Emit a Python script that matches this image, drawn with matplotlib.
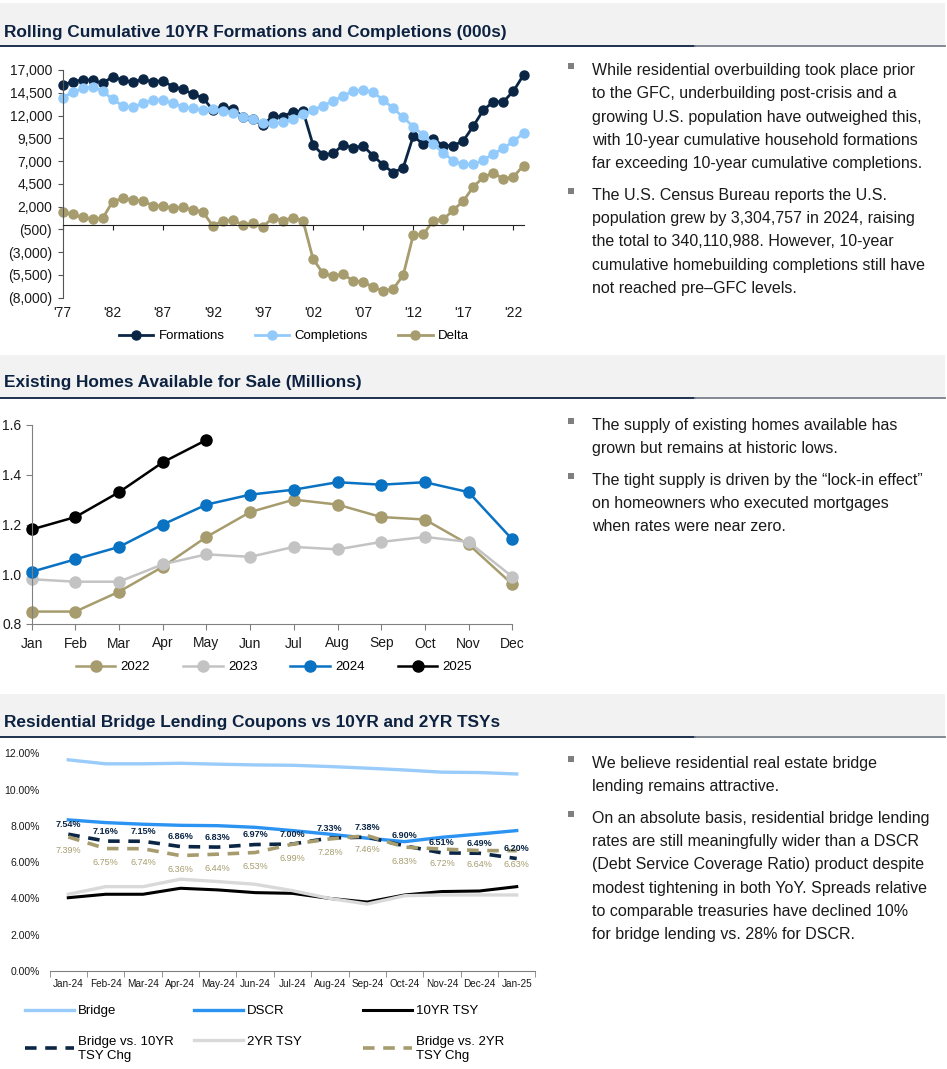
import numpy as np
import matplotlib
matplotlib.use("Agg")
import matplotlib.pyplot as plt
from matplotlib.patches import Rectangle
from matplotlib.lines import Line2D
from matplotlib.ticker import FuncFormatter

plt.rcParams['font.family'] = ['Liberation Sans', 'DejaVu Sans']

# ---- data: rolling 10yr formations / completions (000s)
years = list(range(1977, 2024))
formations = [15350, 15720, 15900, 15900, 15540, 16270, 15900, 15650, 15980, 15720,
              15830, 15170, 14880, 14370, 13960, 12610, 12970, 12720, 11880, 11580,
              10960, 11950, 11880, 12430, 12500, 8770, 7670, 7850, 8770, 8470,
              8660, 7590, 6570, 5730, 6280, 9750, 8840, 9420, 8690, 8690,
              9240, 10850, 12610, 13520, 13520, 14690, 16450]
completions = [13960, 14550, 14990, 15170, 14690, 13780, 13080, 12900, 13340, 13710,
               13710, 13340, 12970, 12790, 12610, 12680, 12540, 12320, 11880, 11580,
               11140, 11140, 11250, 11620, 12130, 12610, 13080, 13600, 14150, 14690,
               14800, 14550, 13710, 12790, 11800, 10780, 9860, 8840, 7920, 7010,
               6640, 6640, 7120, 7780, 8400, 9200, 10050]
delta = [1370, 1150, 820, 640, 710, 2540, 2910, 2730, 2650, 2100,
         2100, 1810, 1920, 1630, 1450, -130, 460, 530, -20, 160,
         -200, 790, 460, 790, 460, -3750, -5330, -5620, -5400, -6170,
         -6240, -6860, -7230, -7050, -5510, -1120, -1040, 460, 600, 1630,
         2620, 4190, 5220, 5730, 5000, 5290, 6500]

# ---- data: existing homes for sale (millions)
months = ['Jan', 'Feb', 'Mar', 'Apr', 'May', 'Jun', 'Jul', 'Aug', 'Sep', 'Oct', 'Nov', 'Dec']
homes_2022 = [0.85, 0.85, 0.93, 1.03, 1.15, 1.25, 1.30, 1.28, 1.23, 1.22, 1.12, 0.96]
homes_2023 = [0.98, 0.97, 0.97, 1.04, 1.08, 1.07, 1.11, 1.10, 1.13, 1.15, 1.13, 0.99]
homes_2024 = [1.01, 1.06, 1.11, 1.20, 1.28, 1.32, 1.34, 1.37, 1.36, 1.37, 1.33, 1.14]
homes_2025 = [1.18, 1.23, 1.33, 1.45, 1.54]

# ---- data: bridge lending coupons vs treasuries (%)
periods = ['Jan-24', 'Feb-24', 'Mar-24', 'Apr-24', 'May-24', 'Jun-24', 'Jul-24',
           'Aug-24', 'Sep-24', 'Oct-24', 'Nov-24', 'Dec-24', 'Jan-25']
bridge = [11.64, 11.42, 11.42, 11.45, 11.40, 11.36, 11.34, 11.27, 11.18, 11.08, 10.96, 10.94, 10.86]
dscr = [8.33, 8.18, 8.09, 8.03, 8.01, 7.92, 7.74, 7.54, 7.32, 7.13, 7.37, 7.55, 7.74]
tsy10 = [4.04, 4.23, 4.23, 4.56, 4.47, 4.32, 4.28, 4.00, 3.80, 4.19, 4.38, 4.41, 4.65]
tsy2 = [4.23, 4.65, 4.65, 5.06, 4.93, 4.78, 4.43, 4.00, 3.69, 4.15, 4.19, 4.19, 4.19]
vs10 = [7.54, 7.16, 7.15, 6.86, 6.83, 6.97, 7.00, 7.33, 7.38, 6.90, 6.51, 6.49, 6.20]
vs2 = [7.39, 6.75, 6.74, 6.36, 6.44, 6.53, 6.99, 7.28, 7.46, 6.83, 6.72, 6.64, 6.63]

top_text = [
    ["While residential overbuilding took place prior",
     "to the GFC, underbuilding post-crisis and a",
     "growing U.S. population have outweighed this,",
     "with 10-year cumulative household formations",
     "far exceeding 10-year cumulative completions."],
    ["The U.S. Census Bureau reports the U.S.",
     "population grew by 3,304,757 in 2024, raising",
     "the total to 340,110,988. However, 10-year",
     "cumulative homebuilding completions still have",
     "not reached pre\u2013GFC levels."]]
mid_text = [
    ["The supply of existing homes available has",
     "grown but remains at historic lows."],
    ["The tight supply is driven by the \u201clock-in effect\u201d",
     "on homeowners who executed mortgages",
     "when rates were near zero."]]
bot_text = [
    ["We believe residential real estate bridge",
     "lending remains attractive."],
    ["On an absolute basis, residential bridge lending",
     "rates are still meaningfully wider than a DSCR",
     "(Debt Service Coverage Ratio) product despite",
     "modest tightening in both YoY. Spreads relative",
     "to comparable treasuries have declined 10%",
     "for bridge lending vs. 28% for DSCR."]]

NAVY = '#0b2645'
LBLUE = '#92cbfb'
TAN = '#a69c6e'
TXT = '#1a1a1a'

W, H = 947, 1069
fig = plt.figure(figsize=(W / 100, H / 100), dpi=100)


def box(x0, y0, x1, y1):
    return [x0 / W, 1 - y1 / H, (x1 - x0) / W, (y1 - y0) / H]


def fy(y):
    return 1 - y / H


def header(y0, y1, ytxt, title):
    fig.add_artist(Rectangle((0, fy(y1)), 945 / W, (y1 - y0) / H, transform=fig.transFigure,
                             facecolor='#f2f2f2', edgecolor='none'))
    fig.add_artist(Line2D([0, 695 / W], [fy(y1)] * 2, color='#0d2240', lw=1.3))
    fig.add_artist(Line2D([695 / W, 945 / W], [fy(y1)] * 2, color='#7a808c', lw=1.3))
    fig.text(4 / W, fy(ytxt), title, fontsize=12.4, fontweight='bold', color='#0d2240',
             va='center', ha='left')


def bullets(groups, ystart, step=23.3, gap=31.5):
    y = ystart
    for g in groups:
        fig.add_artist(Rectangle((568 / W, fy(y - 1)), 6 / W, 6 / H, transform=fig.transFigure,
                                 facecolor='#7f7f7f', edgecolor='none'))
        for k, line in enumerate(g):
            fig.text(592 / W, fy(y + 5), line, fontsize=11.5, color=TXT, va='baseline', ha='left')
            if k < len(g) - 1:
                y += step
        y += gap


# ================= chart 1
header(3, 46, 32, "Rolling Cumulative 10YR Formations and Completions (000s)")
ax1 = fig.add_axes(box(62.5, 70, 523.5, 297.7))
ax1.plot(years, formations, color=NAVY, lw=2, marker='o', ms=6.5, label='Formations', clip_on=False)
ax1.plot(years, completions, color=LBLUE, lw=2, marker='o', ms=6.5, label='Completions', clip_on=False)
ax1.plot(years, delta, color=TAN, lw=2, marker='o', ms=6.5, label='Delta', clip_on=False)
ax1.set_xlim(1977, 2023)
ax1.set_ylim(-8000, 17000)
ax1.set_yticks(np.arange(-8000, 17001, 2500))
ax1.yaxis.set_major_formatter(FuncFormatter(
    lambda v, p: f"{v:,.0f}" if v >= 0 else f"({-v:,.0f})"))
for s in ['top', 'right']:
    ax1.spines[s].set_visible(False)
ax1.spines['bottom'].set_position(('data', 0))
ax1.spines['bottom'].set_color('#222222')
ax1.spines['left'].set_color('#555555')
ax1.set_xticks(range(1977, 2024, 5))
ax1.set_xticklabels([])
ax1.tick_params(axis='x', direction='out', length=3.5, color='#222222')
ax1.tick_params(axis='y', direction='out', length=3.5, color='#555555', labelsize=10,
                labelcolor=TXT, pad=4)
for yr in range(1977, 2024, 5):
    ax1.text(yr, -0.066, "'" + str(yr)[2:], transform=ax1.get_xaxis_transform(),
             ha='center', va='center', fontsize=10, color=TXT)
fig.legend(handles=ax1.get_lines(), loc='center', bbox_to_anchor=(294 / W, fy(336)),
           ncol=3, frameon=False, fontsize=9.5, handlelength=2.6, handletextpad=0.4,
           columnspacing=2.3)
bullets(top_text, 70)

# ================= chart 2
header(355, 398, 383, "Existing Homes Available for Sale (Millions)")
ax2 = fig.add_axes(box(31.7, 425, 512.3, 624))
x = np.arange(len(months))
ax2.plot(x, homes_2022, color=TAN, lw=1.8, marker='o', ms=8, label='2022', clip_on=False)
ax2.plot(x, homes_2023, color='#c3c3c3', lw=1.8, marker='o', ms=8, label='2023', clip_on=False)
ax2.plot(x, homes_2024, color='#0a72c2', lw=1.8, marker='o', ms=8, label='2024', clip_on=False)
ax2.plot(x[:len(homes_2025)], homes_2025, color='black', lw=1.8, marker='o', ms=8, label='2025',
         clip_on=False)
ax2.set_xlim(0, 11)
ax2.set_ylim(0.8, 1.6)
ax2.set_yticks(np.arange(0.8, 1.61, 0.2))
ax2.yaxis.set_major_formatter(FuncFormatter(lambda v, p: f"{v:.1f}"))
ax2.set_xticks(x)
ax2.set_xticklabels(months)
for s in ['top', 'right']:
    ax2.spines[s].set_visible(False)
for s in ['left', 'bottom']:
    ax2.spines[s].set_color('#808080')
ax2.tick_params(direction='out', length=4, color='#808080', labelsize=10, labelcolor=TXT)
ax2.tick_params(axis='x', pad=5)
fig.legend(handles=ax2.get_lines(), loc='center', bbox_to_anchor=(274 / W, fy(667)),
           ncol=4, frameon=False, fontsize=9.5, handlelength=3.0, handletextpad=0.4,
           columnspacing=2.5)
bullets(mid_text, 425)

# ================= chart 3
header(694, 737, 723, "Residential Bridge Lending Coupons vs 10YR and 2YR TSYs")
ax3 = fig.add_axes(box(49.6, 753.3, 535.4, 971))
p = np.arange(len(periods))
l1, = ax3.plot(p, bridge, color='#99ccfa', lw=2.4, label='Bridge')
l2, = ax3.plot(p, dscr, color='#2b93f2', lw=2.4, label='DSCR')
l3, = ax3.plot(p, tsy10, color='black', lw=2.2, label='10YR TSY')
l4, = ax3.plot(p, tsy2, color='#d9d9d9', lw=2.4, label='2YR TSY')
l5, = ax3.plot(p, vs10, color=NAVY, lw=2.6, ls=(0, (3.2, 2.4)), label='Bridge vs. 10YR\nTSY Chg')
l6, = ax3.plot(p, vs2, color=TAN, lw=2.6, ls=(0, (3.2, 2.4)), label='Bridge vs. 2YR\nTSY Chg')
for i in p:
    ax3.annotate(f"{vs10[i]:.2f}%", (i, vs10[i]), xytext=(0, 10), textcoords='offset pixels',
                 ha='center', va='center', fontsize=6.5, fontweight='bold', color=NAVY)
    ax3.annotate(f"{vs2[i]:.2f}%", (i, vs2[i]), xytext=(0, -14), textcoords='offset pixels',
                 ha='center', va='center', fontsize=6.5, color=TAN)
ax3.set_xlim(-0.5, len(periods) - 0.5)
ax3.set_ylim(0, 12)
ax3.set_yticks(np.arange(0, 12.01, 2))
ax3.yaxis.set_major_formatter(FuncFormatter(lambda v, p: f"{v:.2f}%"))
ax3.set_xticks(p)
ax3.set_xticklabels(periods)
ax3.set_xticks(np.arange(-0.5, len(periods)), minor=True)
for s in ['top', 'right', 'left']:
    ax3.spines[s].set_visible(False)
ax3.spines['bottom'].set_color('#808080')
ax3.tick_params(axis='x', which='major', length=0, labelsize=7.2, labelcolor=TXT, pad=6)
ax3.tick_params(axis='x', which='minor', direction='out', length=4, color='#808080')
ax3.tick_params(axis='y', length=0, labelsize=7.5, labelcolor=TXT, pad=7)

for hs, x0 in [([l1, l5], 25), ([l2, l4], 194), ([l3, l6], 363)]:
    fig.legend(handles=hs, loc='upper left', bbox_to_anchor=(x0 / W, fy(1005)),
               frameon=False, fontsize=9.5, handlelength=3.7, handletextpad=0.3,
               labelspacing=1.4, borderpad=0, borderaxespad=0)
bullets(bot_text, 763)

fig.savefig("out.png", dpi=100)
